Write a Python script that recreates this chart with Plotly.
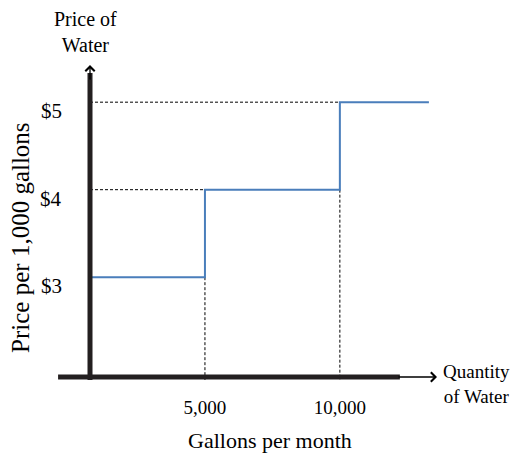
import plotly.graph_objects as go

# ---- data ----
tier_breaks = [5000, 10000]            # gallons per month where price steps up
prices = [3, 4, 5]                      # $ per 1,000 gallons for each tier
tier_end = 13300                        # end of drawn top tier
tick_vals = [5000, 10000]
tick_text = ["5,000", "10,000"]
price_labels = ["$3", "$4", "$5"]

# ---- layout constants ----
X_RANGE = [740, 13600]
Y_RANGE = [1.825, 5.482]
FONT = "Liberation Serif"
AXIS_COLOR = "#231F20"
STEP_COLOR = "#4A7EBB"

fig = go.Figure()

# dashed guide lines
for i, b in enumerate(tier_breaks):
    fig.add_trace(go.Scatter(
        x=[X_RANGE[0], b], y=[prices[i + 1], prices[i + 1]],
        mode="lines", line=dict(color="black", width=1, dash="3px,2px"),
        hoverinfo="skip", showlegend=False, cliponaxis=False))
    fig.add_trace(go.Scatter(
        x=[b, b], y=[prices[i], Y_RANGE[0]],
        mode="lines", line=dict(color="black", width=1, dash="3px,2px"),
        hoverinfo="skip", showlegend=False, cliponaxis=False))

# step price schedule
fig.add_trace(go.Scatter(
    x=[X_RANGE[0]] + tier_breaks + [tier_end],
    y=prices + [prices[-1]],
    mode="lines", line=dict(color=STEP_COLOR, width=2, shape="hv"),
    hoverinfo="skip", showlegend=False, cliponaxis=False))

shapes = [
    dict(type="line", xref="paper", yref="paper", x0=0, x1=0, y0=0.0, y1=0.959,
         line=dict(color=AXIS_COLOR, width=5), layer="above"),
    dict(type="line", xref="paper", yref="paper", x0=-0.092, x1=0.893, y0=0.0094, y1=0.0094,
         line=dict(color=AXIS_COLOR, width=5), layer="above"),
]

def txt(x, y, text, size, **kw):
    d = dict(xref="paper", yref="paper", x=x, y=y, text=text, showarrow=False,
             xanchor="center", yanchor="middle",
             font=dict(family=FONT, size=size, color="black"))
    d.update(kw)
    return d

annotations = [
    dict(xref="paper", yref="paper", x=0, y=0.984, ax=0, ay=16, axref="pixel", ayref="pixel",
         text="", showarrow=True, arrowhead=4, arrowwidth=1.3, arrowsize=1.4, arrowcolor="black"),
    dict(xref="paper", yref="paper", x=1.0, y=0.0094, ax=-40, ay=0, axref="pixel", ayref="pixel",
         text="", showarrow=True, arrowhead=4, arrowwidth=1.3, arrowsize=1.4, arrowcolor="black"),
    txt(-0.012, 1.089, "Price of<br>Water", 20),
    txt(1.115, -0.0125, "Quantity<br>of Water", 19),
    txt(0.519, -0.1875, "Gallons per month", 22),
    txt(-0.199, 0.447, "Price per 1,000 gallons", 25, textangle=-90),
]
for p, lab in zip(prices, price_labels):
    annotations.append(dict(xref="paper", yref="y", x=-0.075, y=p, yshift=-9, text=lab,
                            xanchor="right", yanchor="middle", showarrow=False,
                            font=dict(family=FONT, size=21, color="black")))

fig.update_layout(
    width=513, height=455,
    margin=dict(l=90, r=76, t=60, b=75),
    paper_bgcolor="white", plot_bgcolor="white",
    shapes=shapes, annotations=annotations,
    xaxis=dict(range=X_RANGE, showgrid=False, zeroline=False, showline=False,
               tickvals=tick_vals, ticktext=tick_text, ticks="", ticklabelstandoff=14,
               tickfont=dict(family=FONT, size=19, color="black")),
    yaxis=dict(range=Y_RANGE, showgrid=False, zeroline=False, showline=False,
               showticklabels=False, ticks=""),
)

fig.write_html("out.html", config={"displayModeBar": False},
               post_script="document.body.style.margin='0';document.body.style.overflow='hidden';")
